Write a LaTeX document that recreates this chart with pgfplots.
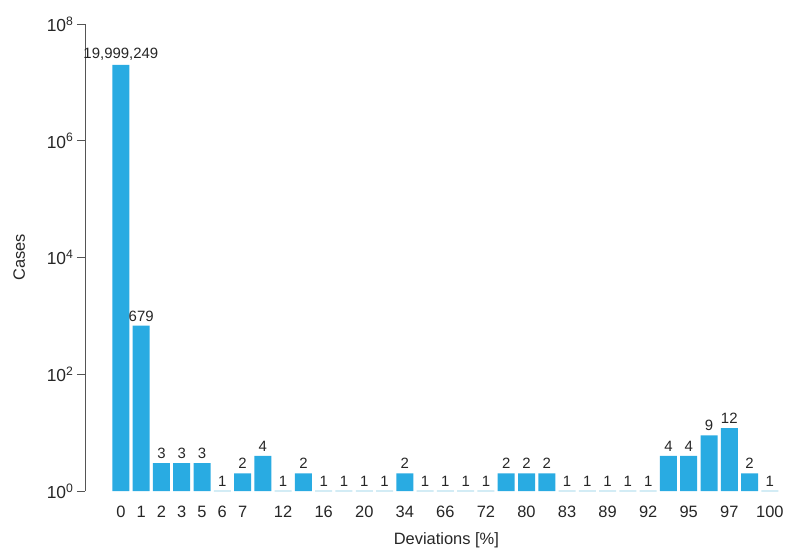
\documentclass[border=0pt]{standalone}
\usepackage{pgfplots}
\pgfplotsset{compat=1.18}
\usepackage{fontspec}
\setmainfont{Liberation Sans}
\definecolor{barblue}{HTML}{29ABE2}
\definecolor{paleblue}{HTML}{D3ECF5}
\definecolor{axgray}{HTML}{555555}
\begin{document}
\begin{tikzpicture}
\begin{axis}[
  name=ax,
  scale only axis,
  width=695bp, height=467bp,
  ymode=log, ymin=1, ymax=1e8,
  xmin=-1.77, xmax=32.5,
  ybar,
  bar width=17bp,
  axis x line*=bottom,
  axis y line*=left,
  axis line style={-},
  x axis line style={draw=none},
  y axis line style={draw=axgray, line width=0.9bp},
  ytick={1,100,10000,1000000,100000000},
  yticklabels={10\textsuperscript{0},10\textsuperscript{2},10\textsuperscript{4},10\textsuperscript{6},10\textsuperscript{8}},
  yminorticks=false,
  ytick style={draw=axgray, line width=0.9bp},
  tick align=outside,
  major tick length=8bp,
  xtick={0,1,2,3,4,5,6,8,10,12,14,16,18,20,22,24,26,28,30,32},
  xticklabels={0,1,2,3,5,6,7,12,16,20,34,66,72,80,83,89,92,95,97,100},
  xtick style={draw=none},
  xticklabel style={font=\fontsize{16.5}{19}\selectfont, text=black!85, yshift=-4bp},
  yticklabel style={font=\fontsize{17.5}{20}\selectfont, text=black!85},
  xlabel={Deviations [\%]},
  ylabel={Cases},
  label style={font=\fontsize{16.5}{19}\selectfont, text=black!85},
  xlabel style={at={(ticklabel cs:0.52)}, anchor=north, yshift=-8bp},
  ylabel style={yshift=15bp},
  nodes near coords,
  point meta=explicit symbolic,
  every node near coord/.append style={font=\fontsize{15}{17}\selectfont, text=black!85, yshift=1bp},
  clip=false,
]
\addplot[bar shift=0pt, fill=barblue, draw=none] coordinates {
  (0,19999249) [{19,999,249}]
  (1,679) [679]
  (2,3) [3]
  (3,3) [3]
  (4,3) [3]
  (6,2) [2]
  (7,4) [4]
  (9,2) [2]
  (14,2) [2]
  (19,2) [2]
  (20,2) [2]
  (21,2) [2]
  (27,4) [4]
  (28,4) [4]
  (29,9) [9]
  (30,12) [12]
  (31,2) [2]
};
\addplot[bar shift=0pt, fill=none, draw=paleblue, line width=1.2bp] coordinates {
  (5,1) [1]
  (8,1) [1]
  (10,1) [1]
  (11,1) [1]
  (12,1) [1]
  (13,1) [1]
  (15,1) [1]
  (16,1) [1]
  (17,1) [1]
  (18,1) [1]
  (22,1) [1]
  (23,1) [1]
  (24,1) [1]
  (25,1) [1]
  (26,1) [1]
  (32,1) [1]
};
\end{axis}
\pgfresetboundingbox
\path ([xshift=-85bp,yshift=-57bp]ax.south west) rectangle ([xshift=10bp,yshift=24bp]ax.north east);
\end{tikzpicture}
\end{document}
